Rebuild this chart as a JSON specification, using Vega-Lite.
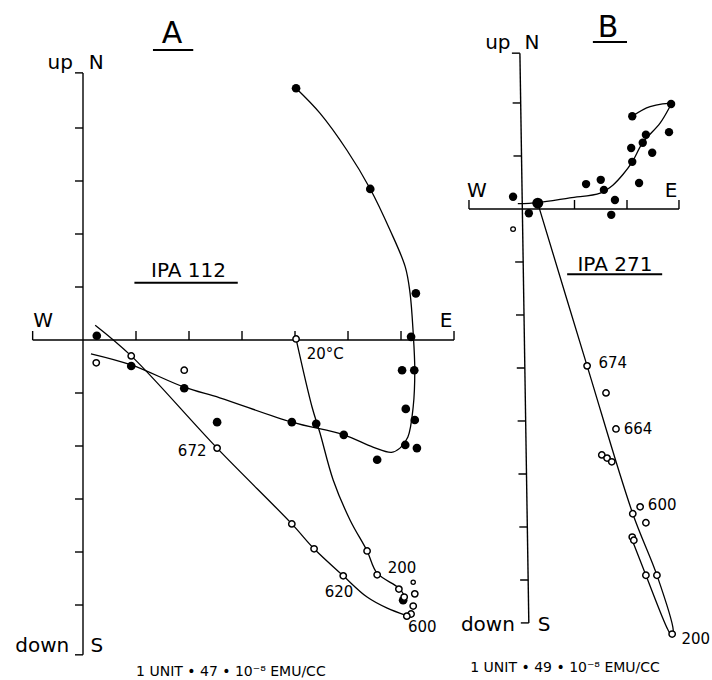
{
  "$schema": "https://vega.github.io/schema/vega-lite/v6.json",
  "padding": 0,
  "spacing": 0,
  "bounds": "flush",
  "background": "white",
  "config": {"view": {"stroke": null}},
  "datasets": {
    "axesA": [{"x": 0, "y": 5.04, "x2": 0, "y2": -5.94}, {"x": -0.95, "y": 0, "x2": 7.0, "y2": 0}],
    "underA": [{"x": 1.32, "y": 5.47, "x2": 2.08, "y2": 5.47}, {"x": 0.97, "y": 1.08, "x2": 2.92, "y2": 1.08}],
    "vTicksA": [{"x": 0, "y": 5.04}, {"x": 0, "y": 4}, {"x": 0, "y": 3}, {"x": 0, "y": 2}, {"x": 0, "y": 1}, {"x": 0, "y": -1}, {"x": 0, "y": -2}, {"x": 0, "y": -3}, {"x": 0, "y": -4}, {"x": 0, "y": -5}, {"x": 0, "y": -5.94}],
    "hTicksA": [{"x": -0.95, "y": 0}, {"x": 1, "y": 0}, {"x": 2, "y": 0}, {"x": 3, "y": 0}, {"x": 4, "y": 0}, {"x": 5, "y": 0}, {"x": 6, "y": 0}, {"x": 7.0, "y": 0}],
    "curvesA": [
      {"c": "f", "o": 1, "x": 4.02, "y": 4.75}, {"c": "f", "o": 2, "x": 4.47, "y": 4.28}, {"c": "f", "o": 3, "x": 4.98, "y": 3.58}, {"c": "f", "o": 4, "x": 5.42, "y": 2.85}, {"c": "f", "o": 5, "x": 5.79, "y": 2.08}, {"c": "f", "o": 6, "x": 6.08, "y": 1.38}, {"c": "f", "o": 7, "x": 6.17, "y": 0.89}, {"c": "f", "o": 8, "x": 6.23, "y": 0.13}, {"c": "f", "o": 9, "x": 6.26, "y": -0.57}, {"c": "f", "o": 10, "x": 6.23, "y": -1.26}, {"c": "f", "o": 11, "x": 6.13, "y": -1.83}, {"c": "f", "o": 12, "x": 5.98, "y": -2.04}, {"c": "f", "o": 13, "x": 5.82, "y": -2.12}, {"c": "f", "o": 14, "x": 5.47, "y": -2.02}, {"c": "f", "o": 15, "x": 4.92, "y": -1.79}, {"c": "f", "o": 16, "x": 3.94, "y": -1.55}, {"c": "f", "o": 17, "x": 2.58, "y": -1.09}, {"c": "f", "o": 18, "x": 1.91, "y": -0.89}, {"c": "f", "o": 19, "x": 0.91, "y": -0.47}, {"c": "f", "o": 20, "x": 0.15, "y": -0.26},
      {"c": "o1", "o": 1, "x": 0.23, "y": 0.28}, {"c": "o1", "o": 2, "x": 0.91, "y": -0.3}, {"c": "o1", "o": 3, "x": 2.53, "y": -2.04}, {"c": "o1", "o": 4, "x": 3.94, "y": -3.47}, {"c": "o1", "o": 5, "x": 4.36, "y": -3.94}, {"c": "o1", "o": 6, "x": 4.91, "y": -4.45}, {"c": "o1", "o": 7, "x": 5.36, "y": -4.85}, {"c": "o1", "o": 8, "x": 5.74, "y": -5.06}, {"c": "o1", "o": 9, "x": 6.08, "y": -5.19},
      {"c": "o2", "o": 1, "x": 4.02, "y": 0.02}, {"c": "o2", "o": 2, "x": 4.32, "y": -1.26}, {"c": "o2", "o": 3, "x": 4.47, "y": -1.75}, {"c": "o2", "o": 4, "x": 4.72, "y": -2.64}, {"c": "o2", "o": 5, "x": 5.04, "y": -3.4}, {"c": "o2", "o": 6, "x": 5.36, "y": -3.98}, {"c": "o2", "o": 7, "x": 5.55, "y": -4.4}, {"c": "o2", "o": 8, "x": 5.96, "y": -4.68}, {"c": "o2", "o": 9, "x": 6.08, "y": -4.85}
    ],
    "filledA": [{"x": 4.02, "y": 4.75}, {"x": 5.42, "y": 2.85}, {"x": 6.28, "y": 0.88}, {"x": 6.19, "y": 0.06}, {"x": 0.26, "y": 0.08}, {"x": 0.91, "y": -0.49}, {"x": 1.91, "y": -0.91}, {"x": 2.53, "y": -1.55}, {"x": 3.94, "y": -1.55}, {"x": 4.4, "y": -1.58}, {"x": 4.92, "y": -1.79}, {"x": 5.55, "y": -2.26}, {"x": 6.08, "y": -1.98}, {"x": 6.3, "y": -2.04}, {"x": 6.02, "y": -0.57}, {"x": 6.25, "y": -0.57}, {"x": 6.09, "y": -1.3}, {"x": 6.26, "y": -1.51}, {"x": 6.04, "y": -4.91}],
    "openA": [{"x": 4.02, "y": 0.02}, {"x": 0.91, "y": -0.3}, {"x": 0.25, "y": -0.43}, {"x": 1.91, "y": -0.57}, {"x": 2.53, "y": -2.04}, {"x": 3.94, "y": -3.47}, {"x": 4.36, "y": -3.94}, {"x": 4.91, "y": -4.45}, {"x": 5.36, "y": -3.98}, {"x": 5.55, "y": -4.43}, {"x": 5.96, "y": -4.7}, {"x": 6.26, "y": -4.79}, {"x": 6.06, "y": -4.85}, {"x": 6.23, "y": -5.02}, {"x": 6.19, "y": -5.17}, {"x": 6.11, "y": -5.21}],
    "openSmallA": [{"x": 6.23, "y": -4.57}],
    "bigLblA": [{"x": 1.68, "y": 5.77, "t": "A"}],
    "midLblA": [{"x": -0.43, "y": 5.23, "t": "up"}, {"x": 0.25, "y": 5.23, "t": "N"}, {"x": -0.75, "y": 0.36, "t": "W"}, {"x": 6.85, "y": 0.36, "t": "E"}, {"x": 1.99, "y": 1.3, "t": "IPA 112"}, {"x": -0.77, "y": -5.77, "t": "down"}, {"x": 0.26, "y": -5.77, "t": "S"}],
    "smallLblA": [{"x": 4.57, "y": -0.26, "t": "20°C"}, {"x": 2.06, "y": -2.09, "t": "672"}, {"x": 4.83, "y": -4.75, "t": "620"}, {"x": 6.02, "y": -4.3, "t": "200"}, {"x": 6.4, "y": -5.42, "t": "600"}],
    "unitA": [{"x": 2.79, "y": -6.26, "t": "1 UNIT • 47 • 10⁻⁸ EMU/CC"}],
    "axesB": [{"x": -0.04, "y": 2.94, "x2": 0.13, "y2": -7.81}, {"x": -1.01, "y": 0, "x2": 2.99, "y2": 0}],
    "underB": [{"x": 1.35, "y": 3.15, "x2": 2.0, "y2": 3.15}, {"x": 0.86, "y": -1.23, "x2": 2.67, "y2": -1.23}],
    "vTicksB": [{"x": -0.04, "y": 2.94}, {"x": -0.026, "y": 2}, {"x": -0.01, "y": 1}, {"x": 0.022, "y": -1}, {"x": 0.038, "y": -2}, {"x": 0.053, "y": -3}, {"x": 0.069, "y": -4}, {"x": 0.085, "y": -5}, {"x": 0.101, "y": -6}, {"x": 0.117, "y": -7}, {"x": 0.13, "y": -7.81}],
    "hTicksB": [{"x": -1.01, "y": 0}, {"x": 1, "y": 0}, {"x": 2, "y": 0}, {"x": 2.99, "y": 0}],
    "curvesB": [
      {"c": "f", "o": 1, "x": -0.08, "y": 0.1}, {"c": "f", "o": 2, "x": 0.3, "y": 0.12}, {"c": "f", "o": 3, "x": 0.91, "y": 0.21}, {"c": "f", "o": 4, "x": 1.49, "y": 0.3}, {"c": "f", "o": 5, "x": 1.73, "y": 0.45}, {"c": "f", "o": 6, "x": 1.93, "y": 0.66}, {"c": "f", "o": 7, "x": 2.1, "y": 0.89}, {"c": "f", "o": 8, "x": 2.3, "y": 1.25}, {"c": "f", "o": 9, "x": 2.63, "y": 1.62}, {"c": "f", "o": 10, "x": 2.8, "y": 1.9}, {"c": "f", "o": 11, "x": 2.84, "y": 1.98}, {"c": "f", "o": 12, "x": 2.44, "y": 1.93}, {"c": "f", "o": 13, "x": 2.1, "y": 1.75},
      {"c": "o", "o": 1, "x": 0.3, "y": 0.11}, {"c": "o", "o": 2, "x": 1.24, "y": -2.96}, {"c": "o", "o": 3, "x": 2.11, "y": -5.75}, {"c": "o", "o": 4, "x": 2.57, "y": -6.91}, {"c": "o", "o": 5, "x": 2.88, "y": -7.94}, {"c": "o", "o": 6, "x": 2.86, "y": -8.06}, {"c": "o", "o": 7, "x": 2.78, "y": -7.94}, {"c": "o", "o": 8, "x": 2.36, "y": -6.91}, {"c": "o", "o": 9, "x": 2.1, "y": -6.25}
    ],
    "filledB": [{"x": 2.84, "y": 1.98}, {"x": 2.1, "y": 1.75}, {"x": 2.8, "y": 1.45}, {"x": 2.36, "y": 1.4}, {"x": 2.3, "y": 1.25}, {"x": 2.08, "y": 1.15}, {"x": 2.48, "y": 1.06}, {"x": 2.1, "y": 0.89}, {"x": 1.5, "y": 0.55}, {"x": 1.22, "y": 0.47}, {"x": 2.23, "y": 0.49}, {"x": 1.56, "y": 0.36}, {"x": 1.77, "y": 0.17}, {"x": -0.17, "y": 0.23}, {"x": 0.13, "y": -0.08}, {"x": 1.7, "y": -0.11}],
    "filledBigB": [{"x": 0.3, "y": 0.11}],
    "openB": [{"x": 1.24, "y": -2.96}, {"x": 1.6, "y": -3.47}, {"x": 1.79, "y": -4.15}, {"x": 1.52, "y": -4.64}, {"x": 1.62, "y": -4.7}, {"x": 1.71, "y": -4.77}, {"x": 2.25, "y": -5.62}, {"x": 2.11, "y": -5.75}, {"x": 2.36, "y": -5.92}, {"x": 2.1, "y": -6.19}, {"x": 2.13, "y": -6.25}, {"x": 2.36, "y": -6.91}, {"x": 2.57, "y": -6.91}, {"x": 2.86, "y": -8.02}],
    "openSmallB": [{"x": -0.17, "y": -0.38}],
    "bigLblB": [{"x": 1.64, "y": 3.42, "t": "B"}],
    "midLblB": [{"x": -0.46, "y": 3.13, "t": "up"}, {"x": 0.19, "y": 3.13, "t": "N"}, {"x": -0.86, "y": 0.34, "t": "W"}, {"x": 2.84, "y": 0.34, "t": "E"}, {"x": 1.77, "y": -1.06, "t": "IPA 271"}, {"x": -0.65, "y": -7.85, "t": "down"}, {"x": 0.42, "y": -7.85, "t": "S"}],
    "smallLblB": [{"x": 1.73, "y": -2.91, "t": "674"}, {"x": 2.21, "y": -4.15, "t": "664"}, {"x": 2.67, "y": -5.58, "t": "600"}, {"x": 3.31, "y": -8.11, "t": "200"}],
    "unitB": [{"x": 0.82, "y": -8.66, "t": "1 UNIT • 49 • 10⁻⁸ EMU/CC"}]
  },
  "hconcat": [
    {
      "width": 460,
      "height": 680,
      "encoding": {
        "x": {"field": "x", "type": "quantitative", "scale": {"domain": [-1.566, 7.113], "nice": false, "zero": false}, "axis": null},
        "y": {"field": "y", "type": "quantitative", "scale": {"domain": [-6.415, 6.415], "nice": false, "zero": false}, "axis": null}
      },
      "layer": [
        {"data": {"name": "axesA"}, "mark": {"type": "rule", "color": "black", "strokeWidth": 1.4}, "encoding": {"x2": {"field": "x2"}, "y2": {"field": "y2"}}},
        {"data": {"name": "underA"}, "mark": {"type": "rule", "color": "black", "strokeWidth": 2}, "encoding": {"x2": {"field": "x2"}, "y2": {"field": "y2"}}},
        {"data": {"name": "vTicksA"}, "mark": {"type": "tick", "orient": "horizontal", "size": 8, "thickness": 1.4, "xOffset": -4, "color": "black", "opacity": 1}},
        {"data": {"name": "hTicksA"}, "mark": {"type": "tick", "orient": "vertical", "size": 9, "thickness": 1.4, "yOffset": -4.5, "color": "black", "opacity": 1}},
        {"data": {"name": "curvesA"}, "mark": {"type": "line", "interpolate": "catmull-rom", "color": "black", "strokeWidth": 1.3}, "encoding": {"detail": {"field": "c", "type": "nominal"}, "order": {"field": "o", "type": "quantitative"}}},
        {"data": {"name": "filledA"}, "mark": {"type": "circle", "size": 75, "fill": "black", "opacity": 1}},
        {"data": {"name": "openA"}, "mark": {"type": "circle", "size": 40, "fill": "white", "stroke": "black", "strokeWidth": 1.5, "opacity": 1}},
        {"data": {"name": "openSmallA"}, "mark": {"type": "circle", "size": 18, "fill": "white", "stroke": "black", "strokeWidth": 1.3, "opacity": 1}},
        {"data": {"name": "bigLblA"}, "mark": {"type": "text", "font": "DejaVu Sans", "fontSize": 30, "align": "center", "baseline": "middle", "color": "black"}, "encoding": {"text": {"field": "t"}}},
        {"data": {"name": "midLblA"}, "mark": {"type": "text", "font": "DejaVu Sans", "fontSize": 20, "align": "center", "baseline": "middle", "color": "black"}, "encoding": {"text": {"field": "t"}}},
        {"data": {"name": "smallLblA"}, "mark": {"type": "text", "font": "DejaVu Sans", "fontSize": 15, "align": "center", "baseline": "middle", "color": "black"}, "encoding": {"text": {"field": "t"}}},
        {"data": {"name": "unitA"}, "mark": {"type": "text", "font": "DejaVu Sans", "fontSize": 14, "align": "center", "baseline": "middle", "color": "black"}, "encoding": {"text": {"field": "t"}}}
      ]
    },
    {
      "width": 252,
      "height": 680,
      "encoding": {
        "x": {"field": "x", "type": "quantitative", "scale": {"domain": [-1.181, 3.619], "nice": false, "zero": false}, "axis": null},
        "y": {"field": "y", "type": "quantitative", "scale": {"domain": [-8.887, 3.943], "nice": false, "zero": false}, "axis": null}
      },
      "layer": [
        {"data": {"name": "axesB"}, "mark": {"type": "rule", "color": "black", "strokeWidth": 1.4}, "encoding": {"x2": {"field": "x2"}, "y2": {"field": "y2"}}},
        {"data": {"name": "underB"}, "mark": {"type": "rule", "color": "black", "strokeWidth": 2}, "encoding": {"x2": {"field": "x2"}, "y2": {"field": "y2"}}},
        {"data": {"name": "vTicksB"}, "mark": {"type": "tick", "orient": "horizontal", "size": 8, "thickness": 1.4, "xOffset": -4, "color": "black", "opacity": 1}},
        {"data": {"name": "hTicksB"}, "mark": {"type": "tick", "orient": "vertical", "size": 9, "thickness": 1.4, "yOffset": -4.5, "color": "black", "opacity": 1}},
        {"data": {"name": "curvesB"}, "mark": {"type": "line", "interpolate": "catmull-rom", "color": "black", "strokeWidth": 1.3}, "encoding": {"detail": {"field": "c", "type": "nominal"}, "order": {"field": "o", "type": "quantitative"}}},
        {"data": {"name": "filledB"}, "mark": {"type": "circle", "size": 70, "fill": "black", "opacity": 1}},
        {"data": {"name": "filledBigB"}, "mark": {"type": "circle", "size": 120, "fill": "black", "opacity": 1}},
        {"data": {"name": "openB"}, "mark": {"type": "circle", "size": 40, "fill": "white", "stroke": "black", "strokeWidth": 1.5, "opacity": 1}},
        {"data": {"name": "openSmallB"}, "mark": {"type": "circle", "size": 22, "fill": "white", "stroke": "black", "strokeWidth": 1.3, "opacity": 1}},
        {"data": {"name": "bigLblB"}, "mark": {"type": "text", "font": "DejaVu Sans", "fontSize": 30, "align": "center", "baseline": "middle", "color": "black"}, "encoding": {"text": {"field": "t"}}},
        {"data": {"name": "midLblB"}, "mark": {"type": "text", "font": "DejaVu Sans", "fontSize": 20, "align": "center", "baseline": "middle", "color": "black"}, "encoding": {"text": {"field": "t"}}},
        {"data": {"name": "smallLblB"}, "mark": {"type": "text", "font": "DejaVu Sans", "fontSize": 15, "align": "center", "baseline": "middle", "color": "black"}, "encoding": {"text": {"field": "t"}}},
        {"data": {"name": "unitB"}, "mark": {"type": "text", "font": "DejaVu Sans", "fontSize": 14, "align": "center", "baseline": "middle", "color": "black"}, "encoding": {"text": {"field": "t"}}}
      ]
    }
  ]
}
